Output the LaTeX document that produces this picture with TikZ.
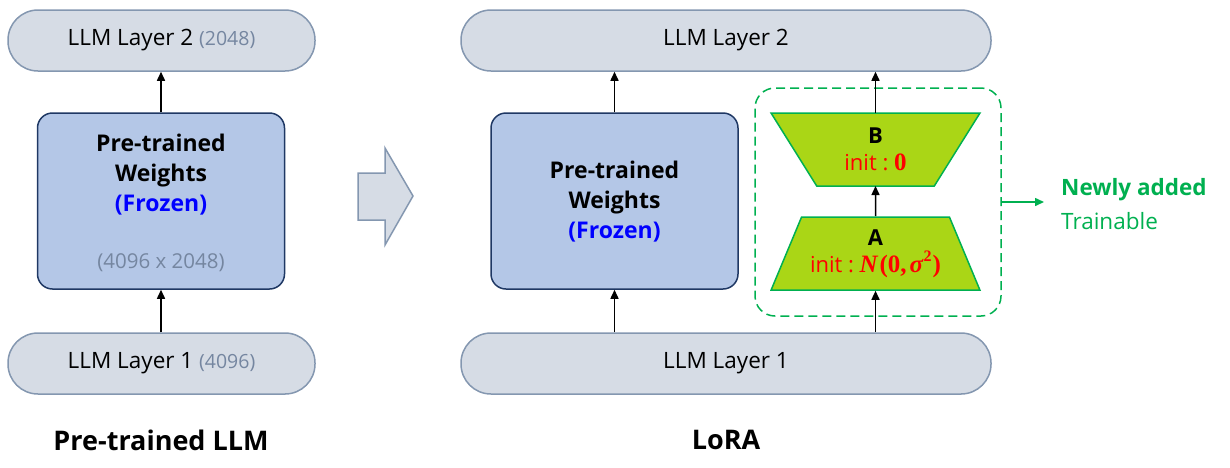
\documentclass[tikz,border=0pt]{standalone}
\usepackage[no-math]{fontspec}
\setmainfont{Open Sans}
\newfontfamily\mserif{Liberation Serif}
\usetikzlibrary{shapes.geometric,arrows.meta}
\definecolor{pillfill}{HTML}{D6DCE5}
\definecolor{pillline}{HTML}{8497B0}
\definecolor{boxfill}{HTML}{B4C7E7}
\definecolor{boxline}{HTML}{1F3864}
\definecolor{trapfill}{HTML}{AAD616}
\definecolor{grn}{HTML}{00B050}
\definecolor{dimtxt}{HTML}{7586A0}
\definecolor{frz}{HTML}{0000FF}
\begin{document}
\begin{tikzpicture}[x=1pt,y=-1pt,
  pill/.style={draw=pillline,fill=pillfill,line width=1.5pt,rounded corners=30pt,
    minimum height=61pt,inner sep=0pt,font=\fontsize{22.5}{26}\selectfont},
  wbox/.style={draw=boxline,fill=boxfill,line width=1.5pt,rounded corners=15pt,
    minimum width=247pt,minimum height=176pt,inner sep=0pt},
  wtxt/.style={font=\fontsize{23}{30}\selectfont\bfseries,align=center,inner sep=0pt},
  trap/.style={trapezium,draw=grn,fill=trapfill,line width=1.5pt,
    trapezium left angle=60.7,trapezium right angle=60.7,trapezium stretches=true,
    minimum width=209pt,minimum height=73pt,inner sep=0pt,align=center,
    font=\fontsize{22}{27}\selectfont},
  arr/.style={-{Triangle[width=8pt,length=9pt]},line width=1.5pt,black},
  garr/.style={-{Triangle[width=8pt,length=9pt]},line width=1.5pt,grn},
  title/.style={font=\fontsize{27}{30}\selectfont\bfseries,inner sep=0pt}
]
\useasboundingbox (0,0) rectangle (1230,467);

% ---------- left: pre-trained LLM ----------
\node[pill,minimum width=307pt] (l2a) at (161.5,40.5)
  {LLM Layer 2 {\fontsize{19.5}{22}\selectfont\color{dimtxt}(2048)}};
\node[wbox] (wa) at (161,201) {};
\node[pill,minimum width=307pt] (l1a) at (161.5,363.5)
  {LLM Layer 1 {\fontsize{19.5}{22}\selectfont\color{dimtxt}(4096)}};
\node[wtxt] (wat) at (161,175) {Pre-trained\\Weights\\\textcolor{frz}{(Frozen)}};
\node[inner sep=0pt,font=\fontsize{20.5}{23}\selectfont,text=dimtxt] (wad) at (161,263) {(4096 x 2048)};
\draw[arr] (wa.north) -- (l2a.south -| wa.north);
\draw[arr] (l1a.north -| wa.south) -- (wa.south);
\node[title] (t1) at (161,440) {Pre-trained LLM};

% ---------- block arrow ----------
\draw[draw=pillline,fill=pillfill,line width=1.5pt]
  (358,173) -- (385,173) -- (385,148) -- (413,196) -- (385,245) -- (385,220) -- (358,220) -- cycle;

% ---------- right: LoRA ----------
\node[pill,minimum width=530pt] (l2b) at (726,40.5) {LLM Layer 2};
\node[pill,minimum width=530pt] (l1b) at (726,363.5) {LLM Layer 1};
\node[wbox] (wb) at (614.5,201) {};
\node[wtxt] (wbt) at (614.5,202) {Pre-trained\\Weights\\\textcolor{frz}{(Frozen)}};
\draw[arr] (wb.north) -- (l2b.south -| wb.north);
\draw[arr] (l1b.north -| wb.south) -- (wb.south);

\node[draw=grn,dash pattern=on 9pt off 5pt,line width=1.5pt,rounded corners=20pt,
  minimum width=246pt,minimum height=228pt,inner sep=0pt] (dbox) at (878,202) {};

\node[trap] (ta) at (875.5,253.5)
  {\textbf{A}\\\textcolor{red}{init :\ {\mserif\bfseries\fontsize{25}{27}\selectfont\textit{N}\kern1pt(0,\kern3pt\textit{σ}\raisebox{0.42em}{\fontsize{16}{16}\selectfont 2}\kern1pt)}}};
\node[trap,shape border rotate=180] (tb) at (875.5,149.5)
  {\textbf{B}\\\textcolor{red}{init :\ {\mserif\bfseries\fontsize{25}{27}\selectfont 0}}};

\draw[arr] (l1b.north -| ta.south) -- (ta.south);
\draw[arr] (ta.north) -- ([yshift=-36.5pt]tb.center);
\draw[arr] ([yshift=36.5pt]tb.center) -- (l2b.south -| tb.center);

\coordinate (gend) at (1044,202);
\draw[garr] (dbox.east) -- (gend);
\node[anchor=west,inner sep=0pt,font=\fontsize{22.5}{25}\selectfont\bfseries,text=grn] (na) at (1061,190) {Newly added};
\node[anchor=west,inner sep=0pt,font=\fontsize{22.5}{25}\selectfont,text=grn] (nt) at (1061,221) {Trainable};

\node[title] (t2) at (726,440) {LoRA};
\end{tikzpicture}
\end{document}
